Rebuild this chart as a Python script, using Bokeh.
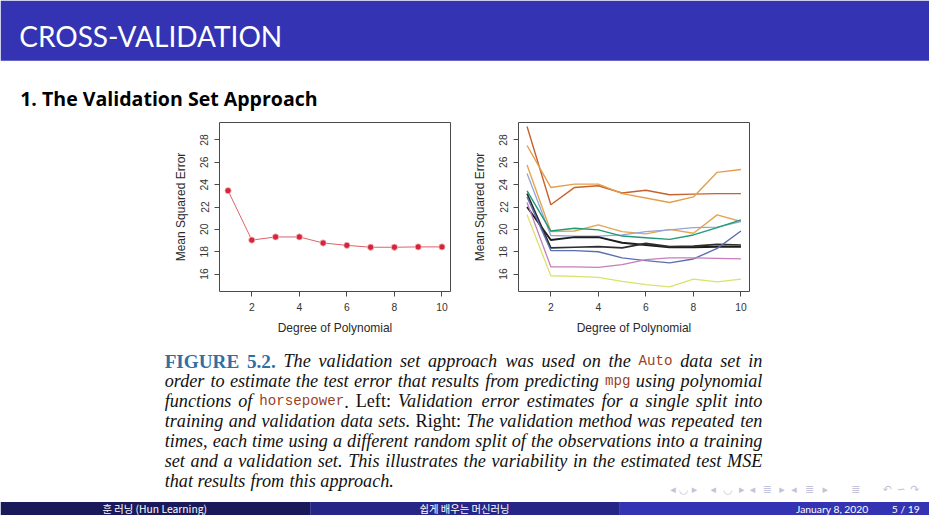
from bokeh.plotting import figure
from bokeh.models import Range1d, FixedTicker, Spacer, ColumnDataSource
from bokeh.layouts import column, row
from bokeh.embed import file_html
from bokeh.resources import INLINE
from bokeh.core.properties import value

# ---------------- data ----------------
degrees = [1, 2, 3, 4, 5, 6, 7, 8, 9, 10]
single_split_mse = [23.46, 19.04, 19.32, 19.32, 18.78, 18.57, 18.40, 18.40, 18.43, 18.43]

run_01 = [29.20, 22.20, 23.75, 23.90, 23.25, 23.50, 23.10, 23.15, 23.20, 23.20]
run_02 = [27.50, 23.75, 24.05, 24.05, 23.20, 22.80, 22.40, 22.90, 25.10, 25.35]
run_03 = [25.75, 19.80, 19.85, 20.40, 19.80, 19.60, 20.00, 19.65, 21.30, 20.70]
run_04 = [25.00, 19.45, 19.40, 19.40, 19.50, 19.80, 19.95, 20.15, 20.20, 20.70]
run_05 = [23.45, 19.85, 20.10, 19.95, 19.40, 19.25, 19.10, 19.50, 20.15, 20.85]
run_06 = [22.00, 19.05, 19.30, 19.30, 18.80, 18.60, 18.40, 18.40, 18.45, 18.45]
run_07 = [23.20, 18.35, 18.40, 18.45, 18.35, 18.75, 18.45, 18.50, 18.65, 18.60]
run_08 = [22.90, 18.10, 18.10, 18.00, 17.45, 17.20, 17.00, 17.35, 18.30, 19.85]
run_09 = [22.40, 16.65, 16.65, 16.60, 16.85, 17.30, 17.45, 17.45, 17.40, 17.35]
run_10 = [21.30, 15.85, 15.80, 15.70, 15.35, 15.05, 14.85, 15.55, 15.30, 15.55]
runs = [run_01, run_02, run_03, run_04, run_05, run_06, run_07, run_08, run_09, run_10]

x_ticks = [2, 4, 6, 8, 10]
y_ticks = [16, 18, 20, 22, 24, 26, 28]
x_label = "Degree of Polynomial"
y_label = "Mean Squared Error"

# ---------------- styles ----------------
run_colors = ["#c8612f", "#e2a04a", "#e4a552", "#93a6d6", "#1f9a78",
              "#1c1c1c", "#2e2e2e", "#5b6fb0", "#c77dbb", "#d9e36c"]
run_widths = [1.4, 1.4, 1.4, 1.3, 1.4, 1.9, 1.7, 1.4, 1.3, 1.3]

# the slide is drawn in reference units (945 x 531) scaled into 929 x 515 px
SX = 929 / 945
SY = 515 / 531


def px(size):
    return "%.2fpx" % (size * SX)


def make_chart(border_left, border_right):
    p = figure(width=295, height=219, title=None,
               x_range=Range1d(0.64, 10.36), y_range=Range1d(14.44, 29.56),
               output_backend="svg", toolbar_location=None,
               min_border_left=border_left, min_border_right=border_right,
               min_border_top=2, min_border_bottom=48)
    p.grid.visible = False
    p.outline_line_color = "#4a4a4a"
    p.outline_line_width = 1
    p.background_fill_color = "white"
    p.border_fill_color = "white"
    for ax in (p.xaxis[0], p.yaxis[0]):
        ax.axis_line_color = None
        ax.major_tick_line_color = "#4a4a4a"
        ax.major_tick_out = 5
        ax.major_tick_in = 0
        ax.minor_tick_line_color = None
        ax.major_label_text_font = "Liberation Sans"
        ax.major_label_text_font_size = px(10.5)
        ax.major_label_text_color = "#333333"
        ax.axis_label_text_font = "Liberation Sans"
        ax.axis_label_text_font_size = px(12.2)
        ax.axis_label_text_font_style = "normal"
        ax.axis_label_text_color = "#2a2a2a"
        ax.major_label_standoff = 6
    p.xaxis.ticker = FixedTicker(ticks=x_ticks)
    p.yaxis.ticker = FixedTicker(ticks=y_ticks)
    p.yaxis.major_label_orientation = "vertical"
    p.xaxis.axis_label = x_label
    p.yaxis.axis_label = y_label
    p.xaxis.axis_label_standoff = 7
    p.yaxis.axis_label_standoff = 10
    return p


# left chart: single split
left = make_chart(52, 12)
src_single = ColumnDataSource(dict(deg=degrees, mse=single_split_mse))
left.line("deg", "mse", source=src_single, line_color="#e0606a", line_width=1)
left.scatter("deg", "mse", source=src_single, size=6.3, fill_color="#d4253a",
             line_color="#f3c7cc", line_width=0.8)

# right chart: ten random splits
right = make_chart(51, 13)
for ys, c, w in zip(runs, run_colors, run_widths):
    right.line(degrees, ys, line_color=c, line_width=w)

# ---------------- slide header ----------------
top = figure(width=929, height=120, title=None, x_range=Range1d(0, 945), y_range=Range1d(120 / SY, 0),
             output_backend="svg", toolbar_location=None, min_border=0,
             x_axis_location=None, y_axis_location=None)
top.grid.visible = False
top.outline_line_color = None
top.quad(left=0, right=945, top=0, bottom=62, fill_color="#3333B3", line_color=None)
top.text(x=[19], y=[36.5], text=["CROSS-VALIDATION"], text_font=value("Lato"),
         text_font_size=px(28.5), text_color="white", text_baseline="middle", text_align="left")
top.text(x=[20], y=[101], text=["1. The Validation Set Approach"], text_font=value("Open Sans"),
         text_font_size=px(19.9), text_font_style="bold", text_color="black",
         text_baseline="middle", text_align="left")

# ---------------- caption (justified, word by word) ----------------
bottom = figure(width=929, height=176, title=None, x_range=Range1d(0, 945), y_range=Range1d(531, 339 / SY),
                output_backend="svg", toolbar_location=None, min_border=0,
                x_axis_location=None, y_axis_location=None)
bottom.grid.visible = False
bottom.outline_line_color = None

caption_lines = [
    [("fig", "FIGURE 5.2."), ("it", " The validation set approach was used on the "), ("tt", "Auto"),
     ("it", " data set in")],
    [("it", "order to estimate the test error that results from predicting "), ("tt", "mpg"),
     ("it", " using polynomial")],
    [("it", "functions of "), ("tt", "horsepower"), ("rm", ". Left: "),
     ("it", "Validation error estimates for a single split into")],
    [("it", "training and validation data sets. "), ("rm", "Right: "),
     ("it", "The validation method was repeated ten")],
    [("it", "times, each time using a different random split of the observations into a training")],
    [("it", "set and a validation set. This illustrates the variability in the estimated test MSE")],
    [("it", "that results from this approach.")],
]

# Times-compatible advance widths (Liberation Serif), per 1000 em
_it = dict(zip("abcdefghijklmnopqrstuvwxyz",
               [500, 500, 444, 500, 444, 278, 500, 500, 278, 278, 444, 278, 722, 500, 500, 500, 500, 389, 389,
                278, 500, 444, 667, 444, 444, 389]))
_it.update({"T": 556, "V": 611, "M": 833, "S": 500, "E": 611, ",": 250, ".": 250, ":": 333})
_rm = dict(zip("abcdefghijklmnopqrstuvwxyz",
               [444, 500, 444, 500, 444, 333, 500, 500, 278, 278, 500, 278, 778, 500, 500, 500, 500, 333, 389,
                278, 500, 500, 722, 500, 500, 444]))
_rm.update({"L": 611, "R": 667, ".": 250, ":": 278, ",": 250})
_bf = {"F": 611, "I": 389, "G": 778, "U": 722, "R": 722, "E": 667, ".": 250, "5": 500, "2": 500}
metrics = {"it": _it, "rm": _rm, "fig": _bf}
sizes = {"it": 18.5, "rm": 18.5, "fig": 19.5, "tt": 14.4}


def token_width(style, txt):
    if style == "tt":
        return 0.6 * sizes["tt"] * len(txt)
    tab = metrics[style]
    return sum(tab.get(ch, 500) for ch in txt) * sizes[style] / 1000.0


def tokenize(runs_in_line):
    toks = []
    pending = False
    for style, txt in runs_in_line:
        cur, start_space = "", False
        for ch in txt:
            if ch == " ":
                if cur:
                    toks.append((style, cur, start_space))
                    cur = ""
                pending = True
            else:
                if not cur:
                    start_space, pending = pending, False
                cur += ch
        if cur:
            toks.append((style, cur, start_space))
    return toks


CAP_X0, CAP_W = 167, 608
cap_mid = [372, 392.6, 413.2, 433.8, 454.4, 475, 495.6]
space_w = 0.25 * sizes["it"]
placed = {k: dict(x=[], y=[], t=[]) for k in sizes}
for li, runs_in_line in enumerate(caption_lines):
    toks = tokenize(runs_in_line)
    widths = [token_width(s, t) for s, t, _ in toks]
    gaps = sum(1 for _, _, sp in toks if sp)
    natural = sum(widths) + gaps * space_w
    justify = li < len(caption_lines) - 1
    extra = (CAP_W - natural) / gaps if (justify and gaps) else 0.0
    x = CAP_X0
    for (s, t, sp), w in zip(toks, widths):
        if sp:
            x += space_w + extra
        placed[s]["x"].append(x)
        placed[s]["y"].append(cap_mid[li])
        placed[s]["t"].append(t)
        x += w

fonts = {"it": ("Liberation Serif", "italic", "#111111"), "rm": ("Liberation Serif", "normal", "#111111"),
         "fig": ("Liberation Serif", "bold", "#2f6fa3"), "tt": ("Liberation Mono", "normal", "#9c3f26")}
for s, d in placed.items():
    if not d["t"]:
        continue
    fam, sty, col = fonts[s]
    bottom.text(x="x", y="y", text="t", source=ColumnDataSource(d), text_font=value(fam),
                text_font_style=sty, text_font_size=px(sizes[s]), text_color=col,
                text_align="left", text_baseline="middle")

# beamer navigation symbols
nav_x = [684, 695, 706, 725, 740, 754, 765, 780, 795, 807, 823, 839, 870, 902, 916, 930]
nav_t = ["◂", "◡", "▸", "◂", "◡", "▸", "◂", "≣", "▸", "◂", "≣", "▸", "≣", "↶", "∽", "↷"]
bottom.text(x=nav_x, y=[504] * len(nav_x), text=nav_t, text_font=value("DejaVu Sans"),
            text_font_size=px(11), text_color="#c2c2d8", text_align="center", text_baseline="middle")

# footline
bottom.quad(left=[0, 315, 630], right=[315, 630, 945], top=[517, 517, 517], bottom=[531, 531, 531],
            fill_color=["#1A1A5A", "#262686", "#3333B3"], line_color=None)
foot_font = value("Noto Sans CJK KR")
bottom.text(x=[157], y=[524], text=["훈 러닝 (Hun Learning)"], text_font=foot_font, text_font_size=px(10.5),
            text_color="white", text_align="center", text_baseline="middle")
bottom.text(x=[472], y=[524], text=["쉽게 배우는 머신러닝"], text_font=foot_font, text_font_size=px(10.5),
            text_color="white", text_align="center", text_baseline="middle")
bottom.text(x=[883], y=[524], text=["January 8, 2020"], text_font=value("Lato"), text_font_size=px(10.5),
            text_color="white", text_align="right", text_baseline="middle")
bottom.text(x=[935], y=[524], text=["5 / 19"], text_font=value("Lato"), text_font_size=px(10.5),
            text_color="white", text_align="right", text_baseline="middle")

charts = row(Spacer(width=167, height=219), left, Spacer(width=5, height=219), right,
             Spacer(width=167, height=219))
page = column(top, charts, bottom)

open("out.html", "w").write(file_html(page, INLINE))
